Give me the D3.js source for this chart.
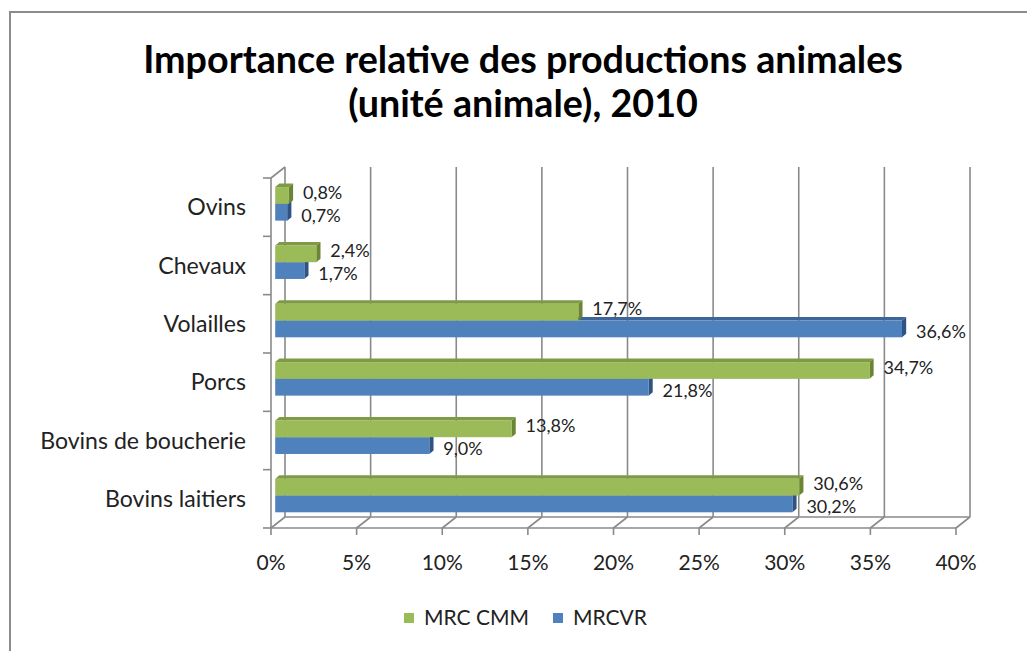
<!DOCTYPE html>
<html>
<head>
<meta charset="utf-8">
<script src="https://cdn.jsdelivr.net/npm/d3@7"></script>
<style>
  body { margin: 0; background: #fff; }
  text { font-family: Lato, "Open Sans", sans-serif; fill: #222; }
</style>
</head>
<body>
<svg id="chart" width="1027" height="651"></svg>
<script>
// data, bottom category first (as in the spreadsheet)
var categories = ["Bovins laitiers", "Bovins de boucherie", "Porcs", "Volailles", "Chevaux", "Ovins"];
var seriesNames = ["MRC CMM", "MRCVR"];
var mrcCmm = [30.6, 13.8, 34.7, 17.7, 2.4, 0.8];
var mrcvr = [30.2, 9.0, 21.8, 36.6, 1.7, 0.7];
var xTicks = [0, 5, 10, 15, 20, 25, 30, 35, 40];
var titleLines = ["Importance relative des productions animales", "(unité animale), 2010"];

var colors = {
    "MRC CMM": { front: "#9bbb59", top: "#7d9b45", side: "#6b8534", labelDy: -3 },
    "MRCVR": { front: "#4f81bd", top: "#3c6697", side: "#2f5483", labelDy: 3 }
};

var svg = d3.select("#chart");

var front = { left: 271, right: 956, top: 178, bottom: 528 },
    depth = { dx: 14, dy: -11 },
    barShift = { dx: 4.2, dy: -3.3 },
    barDepth = { dx: 4.2, dy: -3.5 },
    gridColor = "#8a8a8a";

// outer frame
svg.append("rect")
    .attr("x", 10).attr("y", 12)
    .attr("width", 1100).attr("height", 800)
    .attr("fill", "none")
    .attr("stroke", "#8c8c8c")
    .attr("stroke-width", 2);

// title
var title = svg.append("g");
titleLines.forEach(function (t, i) {
    title.append("text")
        .attr("x", 523)
        .attr("y", 73 + i * 44)
        .attr("text-anchor", "middle")
        .attr("font-weight", "bold")
        .style("fill", "#000")
        .attr("font-size", 32)
        .text(t);
});
// fit first line to the width seen in the picture
var t0 = title.select("text").node();
var titleSize = 32 * 760 / t0.getComputedTextLength();
title.selectAll("text").attr("font-size", titleSize);

var x = d3.scaleLinear()
    .domain([0, 40])
    .range([front.left, front.right]);

var y = d3.scaleBand()
    .domain(categories)
    .range([front.bottom, front.top]);

var ySeries = d3.scaleBand()
    .domain(seriesNames)
    .range([0, y.bandwidth()])
    .paddingOuter(0.74);

var g = svg.append("g").attr("fill", "none").attr("stroke", gridColor).attr("stroke-width", 1.6);

// back wall gridlines
xTicks.forEach(function (t) {
    g.append("line")
        .attr("x1", x(t) + depth.dx).attr("x2", x(t) + depth.dx)
        .attr("y1", front.bottom + depth.dy).attr("y2", front.top + depth.dy);
    // floor diagonal + tick
    g.append("polyline")
        .attr("points", [[x(t), front.bottom + 7], [x(t), front.bottom], [x(t) + depth.dx, front.bottom + depth.dy]].join(" "));
});

// floor edges
g.append("line")
    .attr("x1", front.left).attr("x2", front.right)
    .attr("y1", front.bottom).attr("y2", front.bottom);
g.append("line")
    .attr("x1", front.left + depth.dx).attr("x2", front.right + depth.dx)
    .attr("y1", front.bottom + depth.dy).attr("y2", front.bottom + depth.dy);

// left wall
g.append("line")
    .attr("x1", front.left).attr("x2", front.left)
    .attr("y1", front.top).attr("y2", front.bottom);
g.append("line")
    .attr("x1", front.left).attr("x2", front.left + depth.dx)
    .attr("y1", front.top).attr("y2", front.top + depth.dy);

var yEdges = categories.map(function (c) { return y(c); }).concat([front.bottom]);
yEdges.forEach(function (e) {
    g.append("line")
        .attr("x1", front.left - 8).attr("x2", front.left)
        .attr("y1", e).attr("y2", e);
});

// x tick labels
svg.append("g").selectAll("text")
    .data(xTicks)
    .enter().append("text")
    .attr("x", function (d) { return x(d); })
    .attr("y", 563)
    .attr("dy", "0.35em")
    .attr("text-anchor", "middle")
    .attr("font-size", 21)
    .text(function (d) { return d + "%"; });

// category labels
var catLabels = svg.append("g").selectAll("text")
    .data(categories)
    .enter().append("text")
    .attr("x", 246)
    .attr("y", function (d) { return y(d) + y.bandwidth() / 2; })
    .attr("dy", "0.35em")
    .attr("text-anchor", "end")
    .attr("font-size", 20)
    .text(function (d) { return d; });
var widest = d3.max(catLabels.nodes(), function (n) { return n.getComputedTextLength(); });
catLabels.attr("font-size", 20 * 206 / widest);

// bars (lower series first so the upper one sits in front of its top face)
var rows = [];
categories.forEach(function (c, i) {
    rows.push({ cat: c, series: "MRCVR", value: mrcvr[i] });
    rows.push({ cat: c, series: "MRC CMM", value: mrcCmm[i] });
});

var fmt = function (v) { return d3.format(".1f")(v).replace(".", ",") + "%"; };

var bars = svg.append("g").selectAll(".bar")
    .data(rows)
    .enter().append("g")
    .attr("class", "bar");

bars.each(function (d) {
    var b = d3.select(this),
        c = colors[d.series],
        x0 = x(0) + barShift.dx,
        x1 = x(d.value) + barShift.dx,
        y0 = y(d.cat) + ySeries(d.series) + barShift.dy,
        h = ySeries.bandwidth();

    b.append("polygon")
        .attr("points", [[x0, y0], [x0 + barDepth.dx, y0 + barDepth.dy], [x1 + barDepth.dx, y0 + barDepth.dy], [x1, y0]].join(" "))
        .attr("fill", c.top);
    b.append("polygon")
        .attr("points", [[x1, y0], [x1 + barDepth.dx, y0 + barDepth.dy], [x1 + barDepth.dx, y0 + h + barDepth.dy], [x1, y0 + h]].join(" "))
        .attr("fill", c.side);
    b.append("rect")
        .attr("x", x0).attr("y", y0)
        .attr("width", x1 - x0).attr("height", h)
        .attr("fill", c.front);
});

// data labels on top of all bars
bars.each(function (d) {
    var c = colors[d.series],
        x1 = x(d.value) + barShift.dx,
        y0 = y(d.cat) + ySeries(d.series) + barShift.dy,
        h = ySeries.bandwidth();
    svg.append("text")
        .attr("x", x1 + 14)
        .attr("y", y0 + h / 2 + c.labelDy)
        .attr("dy", "0.35em")
        .attr("font-size", 18)
        .text(fmt(d.value));
});

// legend
var legend = svg.append("g").selectAll("g")
    .data(seriesNames)
    .enter().append("g")
    .attr("transform", function (d, i) { return "translate(" + [404, 553][i] + ",618)"; });

legend.append("rect")
    .attr("x", 0).attr("y", -5)
    .attr("width", 10).attr("height", 10)
    .attr("fill", function (d) { return colors[d].front; });

legend.append("text")
    .attr("x", 20)
    .attr("dy", "0.35em")
    .attr("font-size", 21)
    .text(function (d) { return d; });
</script>
</body>
</html>
